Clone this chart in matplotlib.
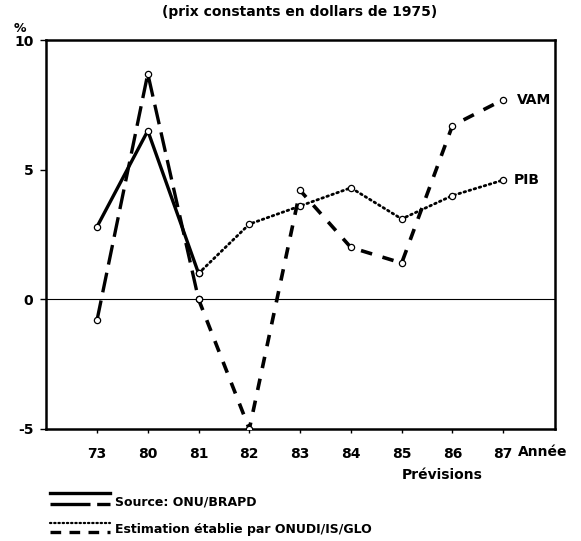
import matplotlib
matplotlib.use("Agg")
import matplotlib.pyplot as plt
from matplotlib.lines import Line2D

years = ["73", "80", "81", "82", "83", "84", "85", "86", "87"]

# Source: ONU/BRAPD (observed)
pib_src_years = ["73", "80", "81"]
pib_src = [2.8, 6.5, 1.0]
vam_src_years = ["73", "80", "81"]
vam_src = [-0.8, 8.7, 0.0]

# Estimation établie par ONUDI/IS/GLO
pib_est_years = ["81", "82", "83", "84", "85", "86", "87"]
pib_est = [1.0, 2.9, 3.6, 4.3, 3.1, 4.0, 4.6]
vam_est_years = ["81", "82", "83", "84", "85", "86", "87"]
vam_est = [0.0, -5.0, 4.2, 2.0, 1.4, 6.7, 7.7]

yticks = [-5, 0, 5, 10]

plt.rcParams['font.family'] = ['DejaVu Sans']

W, H = 581, 541
fig = plt.figure(figsize=(W / 100, H / 100), dpi=100)
ax = fig.add_axes([46 / W, 1 - 429 / H, (555 - 46) / W, (429 - 40) / H])

idx = {y: i for i, y in enumerate(years)}
def xs(lst):
    return [idx[v] for v in lst]

mk = dict(marker='o', markersize=4.5, markerfacecolor='white', markeredgecolor='black', markeredgewidth=0.9)

ax.axhline(0, color='black', lw=0.8, zorder=1)

ax.plot(xs(pib_src_years), pib_src, color='black', lw=2.4, ls='-', **mk, zorder=3)
ax.plot(xs(vam_src_years), vam_src, color='black', lw=2.4, ls=(0, (6, 2.5)), **mk, zorder=3)
ax.plot(xs(pib_est_years), pib_est, color='black', lw=2.0, ls=(0, (0.6, 1.3)),
        dash_capstyle='round', **mk, zorder=3)
ax.plot(xs(vam_est_years), vam_est, color='black', lw=2.6, ls=(0, (3.2, 3.0)), **mk, zorder=3)

ax.text(idx["87"] + 0.27, vam_est[-1], "VAM", fontsize=10, fontweight='bold', va='center', ha='left')
ax.text(idx["87"] + 0.2, pib_est[-1], "PIB", fontsize=10, fontweight='bold', va='center', ha='left')

ax.set_xlim(-1.005, 9.02)
ax.set_ylim(-5, 10)
ax.set_xticks(range(len(years)))
ax.set_xticklabels(years, fontsize=10, fontweight='bold')
ax.set_yticks(yticks)
ax.set_yticklabels([str(v) for v in yticks], fontsize=10, fontweight='bold')
ax.tick_params(axis='x', direction='out', length=3, width=1, pad=10)
ax.tick_params(axis='y', direction='out', length=4, width=1, pad=5)
for s in ax.spines.values():
    s.set_linewidth(1.8)

def fy(p):
    return 1 - p / H
def fx(p):
    return p / W

fig.text(fx(518), fy(452), "Année", fontsize=10, fontweight='bold', ha='left', va='center')
fig.text(fx(442), fy(475), "Prévisions", fontsize=10, fontweight='bold', ha='center', va='center')
fig.text(fx(300), fy(12), "(prix constants en dollars de 1975)", fontsize=10, fontweight='bold',
         ha='center', va='center')
fig.text(fx(20), fy(28), "%", fontsize=9, fontweight='bold', ha='center', va='center')

# Legend drawn manually
fig.add_artist(Line2D([fx(50), fx(110)], [fy(493), fy(493)], color='black', lw=2.4, ls='-'))
fig.add_artist(Line2D([fx(50), fx(110)], [fy(504), fy(504)], color='black', lw=2.4, ls=(0, (12, 2))))
fig.add_artist(Line2D([fx(50), fx(110)], [fy(523), fy(523)], color='black', lw=1.6, ls=(0, (0.6, 1.3)),
                      dash_capstyle='round'))
fig.add_artist(Line2D([fx(50), fx(110)], [fy(532), fy(532)], color='black', lw=2.4, ls=(0, (3.2, 2.5))))
fig.text(fx(115), fy(502), "Source: ONU/BRAPD", fontsize=9, fontweight='bold', ha='left', va='center')
fig.text(fx(115), fy(529), "Estimation établie par ONUDI/IS/GLO", fontsize=9, fontweight='bold',
         ha='left', va='center')

fig.savefig("out.png", dpi=100)
